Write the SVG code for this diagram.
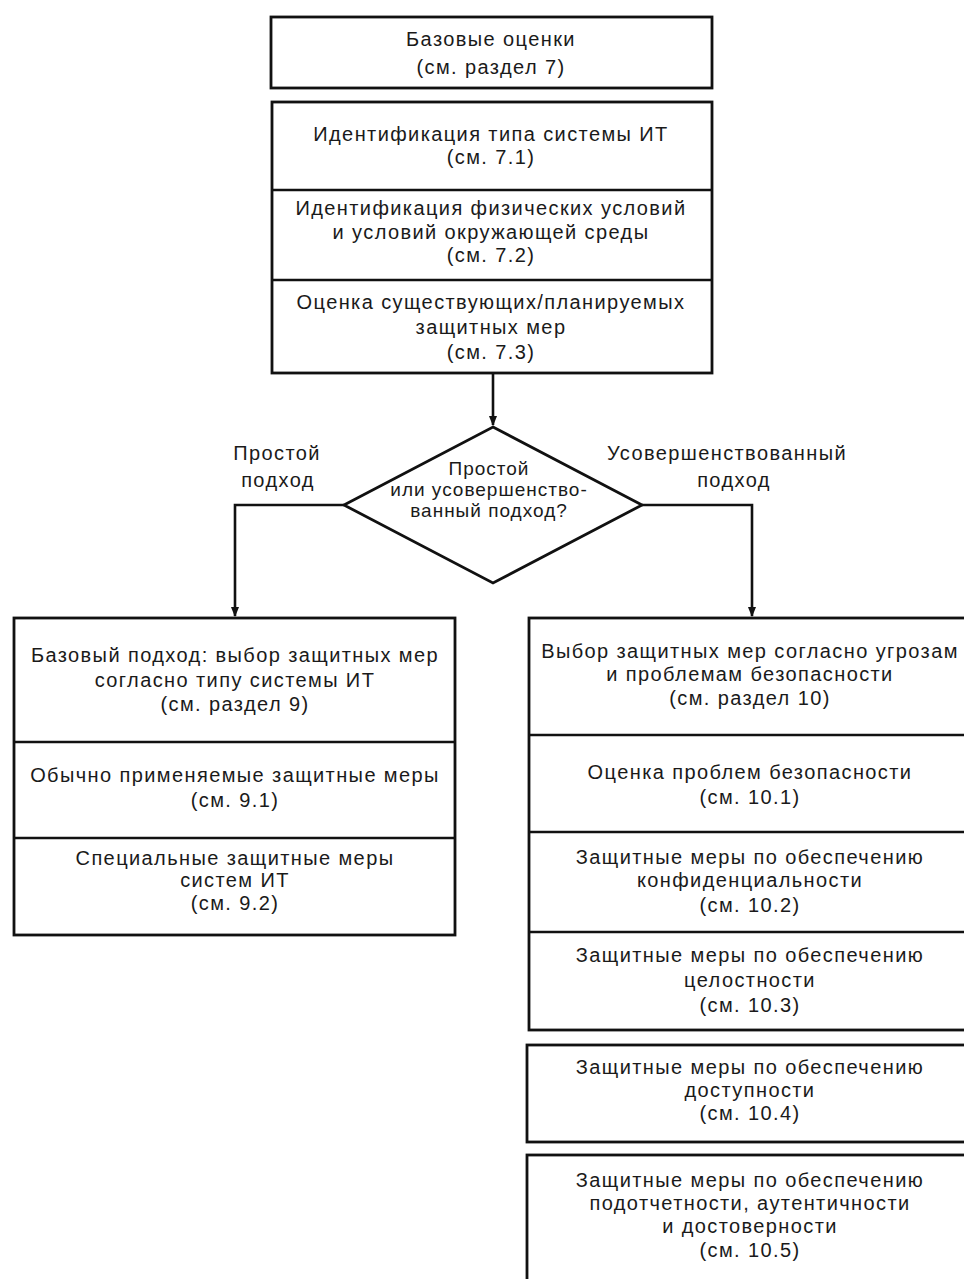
<svg xmlns="http://www.w3.org/2000/svg" width="964" height="1279" viewBox="0 0 964 1279">
<style>
  .box{fill:none;stroke:#111;stroke-width:2.8}
  .div{stroke:#111;stroke-width:2.6}
  .t{font-family:"Liberation Sans",Arial,sans-serif;font-size:20px;letter-spacing:1.4px;fill:#1a1a1a;text-anchor:middle}
  .d{font-size:19px;letter-spacing:1px}
  .c{fill:none;stroke:#111;stroke-width:2.6}
</style>
<defs>
  <marker id="ah" viewBox="0 0 10 10" refX="9" refY="5" markerWidth="4" markerHeight="4" orient="auto" markerUnits="strokeWidth">
    <path d="M0,1 L10,5 L0,9 z" fill="#111"/>
  </marker>
</defs>
<rect width="964" height="1279" fill="#fff"/>

<g id="n-base">
  <rect class="box" x="271" y="17" width="441" height="71"/>
  <text class="t" x="491" y="46">Базовые оценки</text>
  <text class="t" x="491" y="74">(см. раздел 7)</text>
</g>

<g id="n-stack-top">
  <rect class="box" x="272" y="102" width="440" height="271"/>
  <line class="div" x1="272" y1="190" x2="712" y2="190"/>
  <line class="div" x1="272" y1="280" x2="712" y2="280"/>
</g>
<g id="n-7-1">
  <text class="t" x="491" y="141">Идентификация типа системы ИТ</text>
  <text class="t" x="491" y="164">(см. 7.1)</text>
</g>
<g id="n-7-2">
  <text class="t" x="491" y="215">Идентификация физических условий</text>
  <text class="t" x="491" y="239">и условий окружающей среды</text>
  <text class="t" x="491" y="262">(см. 7.2)</text>
</g>
<g id="n-7-3">
  <text class="t" x="491" y="309">Оценка существующих/планируемых</text>
  <text class="t" x="491" y="334">защитных мер</text>
  <text class="t" x="491" y="359">(см. 7.3)</text>
</g>

<g id="n-decision">
  <polygon class="box" points="493,427 642,505 493,583 344,505"/>
  <text class="t d" x="489" y="475">Простой</text>
  <text class="t d" x="489" y="496">или усовершенство-</text>
  <text class="t d" x="489" y="517">ванный подход?</text>
</g>

<g id="n-left">
  <rect class="box" x="14" y="618" width="441" height="317"/>
  <line class="div" x1="14" y1="742" x2="455" y2="742"/>
  <line class="div" x1="14" y1="838" x2="455" y2="838"/>
  <text class="t" x="235" y="662">Базовый подход: выбор защитных мер</text>
  <text class="t" x="235" y="687">согласно типу системы ИТ</text>
  <text class="t" x="235" y="711">(см. раздел 9)</text>
  <text class="t" x="235" y="782">Обычно применяемые защитные меры</text>
  <text class="t" x="235" y="807">(см. 9.1)</text>
  <text class="t" x="235" y="865">Специальные защитные меры</text>
  <text class="t" x="235" y="887">систем ИТ</text>
  <text class="t" x="235" y="910">(см. 9.2)</text>
</g>

<g id="n-right">
  <rect class="box" x="529" y="618" width="450" height="412"/>
  <line class="div" x1="529" y1="735" x2="979" y2="735"/>
  <line class="div" x1="529" y1="832" x2="979" y2="832"/>
  <line class="div" x1="529" y1="932" x2="979" y2="932"/>
  <text class="t" x="750" y="658">Выбор защитных мер согласно угрозам</text>
  <text class="t" x="750" y="681">и проблемам безопасности</text>
  <text class="t" x="750" y="705">(см. раздел 10)</text>
  <text class="t" x="750" y="779">Оценка проблем безопасности</text>
  <text class="t" x="750" y="804">(см. 10.1)</text>
  <text class="t" x="750" y="864">Защитные меры по обеспечению</text>
  <text class="t" x="750" y="887">конфиденциальности</text>
  <text class="t" x="750" y="912">(см. 10.2)</text>
  <text class="t" x="750" y="962">Защитные меры по обеспечению</text>
  <text class="t" x="750" y="987">целостности</text>
  <text class="t" x="750" y="1012">(см. 10.3)</text>
</g>

<g id="n-10-4">
  <rect class="box" x="527" y="1045" width="452" height="97"/>
  <text class="t" x="750" y="1074">Защитные меры по обеспечению</text>
  <text class="t" x="750" y="1097">доступности</text>
  <text class="t" x="750" y="1120">(см. 10.4)</text>
</g>

<g id="n-10-5">
  <rect class="box" x="527" y="1155" width="452" height="140"/>
  <text class="t" x="750" y="1187">Защитные меры по обеспечению</text>
  <text class="t" x="750" y="1210">подотчетности, аутентичности</text>
  <text class="t" x="750" y="1233">и достоверности</text>
  <text class="t" x="750" y="1257">(см. 10.5)</text>
</g>

<g id="connectors">
  <line class="c" x1="493" y1="373" x2="493" y2="425" marker-end="url(#ah)"/>
  <polyline class="c" points="344,505 235,505 235,616" marker-end="url(#ah)"/>
  <polyline class="c" points="642,505 752,505 752,616" marker-end="url(#ah)"/>
  <text class="t" x="277" y="460">Простой</text>
  <text class="t" x="278" y="487">подход</text>
  <text class="t" x="727" y="460">Усовершенствованный</text>
  <text class="t" x="734" y="487">подход</text>
</g>
</svg>
